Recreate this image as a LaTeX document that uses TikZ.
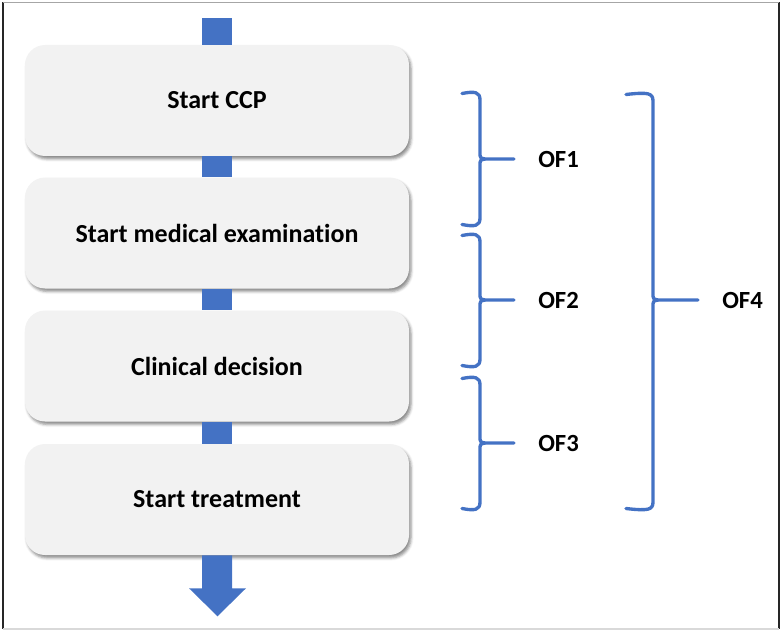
\documentclass[tikz,border=0pt]{standalone}
\usepackage{fontspec}
\setmainfont{Carlito}[Ligatures=NoCommon]
\usetikzlibrary{calc, shadows.blur}

\definecolor{flowblue}{HTML}{4472C4}
\definecolor{boxgray}{HTML}{F2F2F2}

\tikzset{
  stepbox/.style={fill=boxgray, rounded corners=15pt, minimum width=288pt, minimum height=83.25pt,
    font=\fontsize{19.5}{22}\selectfont\bfseries,
    blur shadow={shadow xshift=1.5pt, shadow yshift=-2.2pt, shadow blur radius=2pt, shadow opacity=45}},
  oflabel/.style={anchor=west, inner sep=0pt, xshift=18pt, font=\fontsize{18.5}{21}\selectfont\bfseries},
  bracket/.style={flowblue, line width=2.5pt, line cap=round, line join=round}
}

% curly bracket: x left, x spine, x tip, y top, y mid, y bottom, name, label
\newcommand{\ofbrace}[8]{%
  \draw[bracket] (#1,#4+1.5) .. controls (#2-5,#4-1) and (#2,#4) .. (#2,#4+8)
    -- (#2,#5-7) .. controls (#2,#5-1) .. (#2+5,#5) -- (#3,#5) coordinate (#7);
  \draw[bracket] (#2+5,#5) .. controls (#2,#5+1) .. (#2,#5+7)
    -- (#2,#6-8) .. controls (#2,#6) and (#2-5,#6+1) .. (#1,#6-1.5);
  \node[oflabel] (#7label) at (#7) {#8};
}

\begin{document}
\begin{tikzpicture}[x=0.75pt, y=-0.75pt]
  \useasboundingbox (0,0) rectangle (781,631);

  % frame
  \draw[black!85, line width=1.5pt] (2.5,2) -- (2.5,629);
  \draw[black!85, line width=1.5pt] (778.5,2) -- (778.5,629);
  \draw[black!35, line width=1.2pt] (2.5,2.5) -- (778.5,2.5);
  \draw[black!15, line width=1.2pt] (2.5,629) -- (778.5,629);

  % process steps
  \coordinate (entry) at (217,18);
  \node[stepbox] (ccp) at (217,100.5) {Start CCP};
  \node[stepbox] (exam) at (217,233) {Start medical examination};
  \node[stepbox] (decision) at (217,366) {Clinical decision};
  \node[stepbox] (treat) at (217,499.5) {Start treatment};

  % flow bars
  \fill[flowblue] ($(entry)+(-15,0)$) rectangle ($(ccp.north)+(15,0)$);
  \fill[flowblue] ($(ccp.south)+(-15,0)$) rectangle ($(exam.north)+(15,0)$);
  \fill[flowblue] ($(exam.south)+(-15,0)$) rectangle ($(decision.north)+(15,0)$);
  \fill[flowblue] ($(decision.south)+(-15,0)$) rectangle ($(treat.north)+(15,0)$);
  \fill[flowblue] ($(treat.south)+(-15,0)$) -- ++(0,33) -- ++(-13,0) -- ++(28.5,28)
    -- ++(28.5,-28) -- ++(-14,0) -- ++(0,-33) -- cycle;

  % brackets
  \ofbrace{462}{480}{514}{92}{159}{226}{of1}{OF1}
  \ofbrace{462}{480}{514}{234}{300}{367}{of2}{OF2}
  \ofbrace{462}{480}{514}{377}{443}{510}{of3}{OF3}
  \ofbrace{626}{653}{698}{93}{300}{510}{of4}{OF4}
\end{tikzpicture}
\end{document}
